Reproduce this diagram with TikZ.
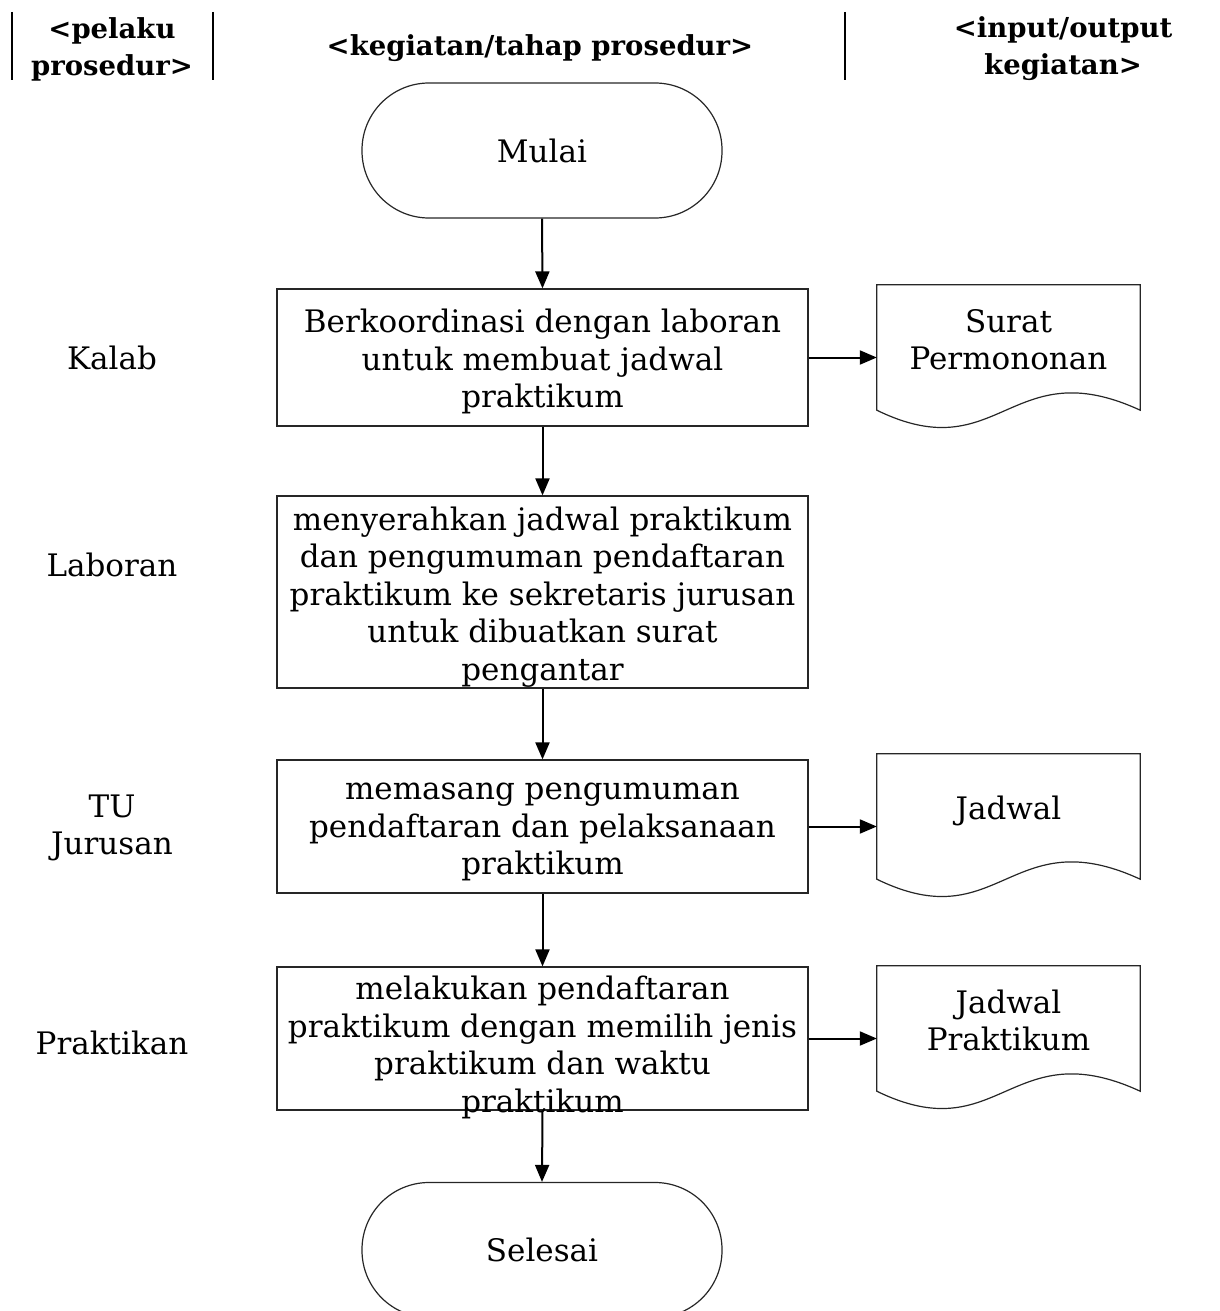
\documentclass[tikz,border=0pt]{standalone}
\usepackage{fontspec}
\setmainfont{DejaVu Serif}
\usetikzlibrary{arrows.meta,calc}
\begin{document}
\begin{tikzpicture}[x=1pt,y=-1pt,
  every node/.style={font=\fontsize{31}{37.5}\selectfont},
  hdr/.style={font=\fontsize{27.5}{37}\selectfont\bfseries, align=center, inner sep=0},
  bar/.style={line width=2.8pt},
  term/.style={draw=black!85, line width=1.2pt, rounded corners=67pt, minimum width=360pt, minimum height=135pt, inner sep=0},
  procbox/.style={draw=black!85, line width=1.2pt, minimum width=531pt, inner sep=0},
  btext/.style={align=center, inner sep=0},
  docnode/.style={minimum width=263pt, minimum height=125pt, inner sep=0},
  docline/.style={draw=black!85, line width=1.2pt},
  flow/.style={line width=2pt, -{Triangle[length=17pt,width=14pt]}},
  actor/.style={align=center, inner sep=0}
]
\useasboundingbox (0,0) rectangle (1220,1311);
\clip (0,0) rectangle (1220,1311);

% header
\draw[bar] (12,12) -- (12,80);
\draw[bar] (213,12) -- (213,80);
\draw[bar] (845,12) -- (845,80);
\node[hdr] (h1) at (112,49) {<pelaku\\prosedur>};
\node[hdr] (h2) at (540,48) {<kegiatan/tahap prosedur>};
\node[hdr] (h3) at (1063,49) {<input/output\\kegiatan>};

% actors
\node[actor] (a1) at (112,358) {Kalab};
\node[actor] (a2) at (112,565) {Laboran};
\node[actor] (a3) at (112,828) {TU\\Jurusan};
\node[actor] (a4) at (112,1043) {Praktikan};

% terminators
\node[term] (m) at (542,150.5) {Mulai};
\node[term] (s) at (542,1250) {Selesai};

% process boxes
\node[procbox, minimum height=137pt] (b1) at (542.5,357.5) {};
\node[btext] (b1t) at ($(b1.center)+(0,4)$) {Berkoordinasi dengan laboran\\untuk membuat jadwal\\praktikum};
\node[procbox, minimum height=192pt] (b2) at (542.5,592) {};
\node[btext] (b2t) at ($(b2.center)+(0,5)$) {menyerahkan jadwal praktikum\\dan pengumuman pendaftaran\\praktikum ke sekretaris jurusan\\untuk dibuatkan surat\\pengantar};
\node[procbox, minimum height=133pt] (b3) at (542.5,826.5) {};
\node[btext] (b3t) at ($(b3.center)+(0,5.5)$) {memasang pengumuman\\pendaftaran dan pelaksanaan\\praktikum};
\node[procbox, minimum height=143pt] (b4) at (542.5,1038.5) {};
\node[btext] (b4t) at ($(b4.center)+(0,9)$) {melakukan pendaftaran\\praktikum dengan memilih jenis\\praktikum dan waktu\\praktikum};

% documents
\node[docnode] (d1) at (1008.5,347.5) {};
\node[btext] (d1t) at ($(d1.center)+(0,-8)$) {Surat\\Permononan};
\node[docnode] (d2) at (1008.5,816.5) {};
\node[btext] (d2t) at ($(d2.center)+(0,-6)$) {Jadwal};
\node[docnode] (d3) at (1008.5,1028.5) {};
\node[btext] (d3t) at ($(d3.center)+(0,-8)$) {Jadwal\\Praktikum};
\foreach \d in {d1,d2,d3}{
  \draw[docline] (\d.north west) -- (\d.north east) -- (\d.south east)
    .. controls +(-130,-60) and +(123,60) .. (\d.south west) -- cycle;
}

% flow
\draw[flow] (m.south) -- (b1.north);
\draw[flow] (b1.south) -- (b2.north);
\draw[flow] (b2.south) -- (b3.north);
\draw[flow] (b3.south) -- (b4.north);
\draw[flow] (b4.south) -- (s.north);
\draw[flow] (b1.east) -- (b1.east -| d1.west);
\draw[flow] (b3.east) -- (b3.east -| d2.west);
\draw[flow] (b4.east) -- (b4.east -| d3.west);
\end{tikzpicture}
\end{document}
